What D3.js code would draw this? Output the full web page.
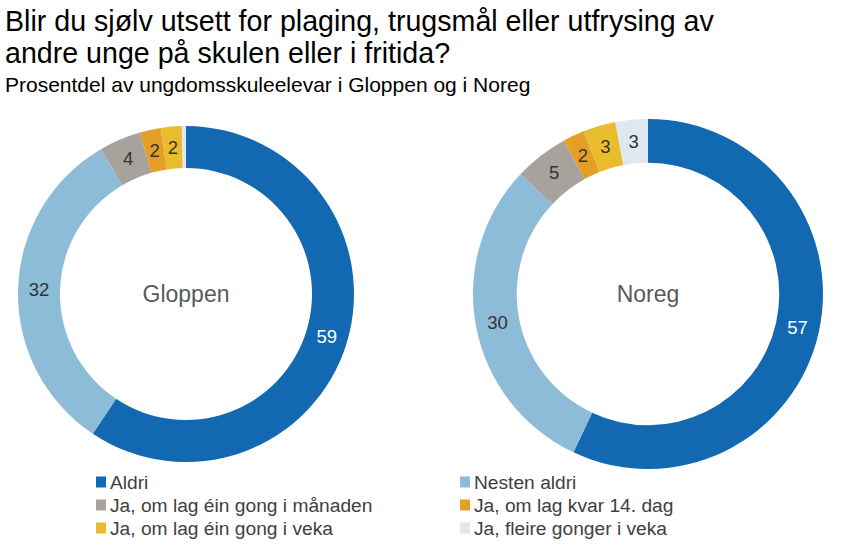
<!DOCTYPE html>
<html>
<head>
<meta charset="utf-8">
<script src="https://cdn.jsdelivr.net/npm/d3@7"></script>
<style>
  html, body { margin: 0; padding: 0; background: #fff; }
  svg { display: block; font-family: "Liberation Sans", Arial, sans-serif; }
</style>
</head>
<body>
<svg id="chart" width="857" height="547"></svg>
<script>
// ---- Data ----
const categories = [
  "Aldri",
  "Nesten aldri",
  "Ja, om lag éin gong i månaden",
  "Ja, om lag kvar 14. dag",
  "Ja, om lag éin gong i veka",
  "Ja, fleire gonger i veka"
];
const colors = ["#1369b1", "#8dbcd9", "#a8a29c", "#e4a026", "#e8bc2c", "#dfe7f1"];
const gloppenValues = [59, 32, 4, 2, 2, 0.4];
const noregValues = [57, 30, 5, 2, 3, 3];
const regions = ["Gloppen", "Noreg"];

const titleLines = [
  "Blir du sjølv utsett for plaging, trugsmål eller utfrysing av",
  "andre unge på skulen eller i fritida?"
];
const subtitle = "Prosentdel av ungdomsskuleelevar i Gloppen og i Noreg";

// ---- Drawing ----
const svg = d3.select("#chart");

const title = svg.append("text").attr("x", 5).attr("y", 31)
  .attr("font-size", 28.6).attr("fill", "#000");
titleLines.forEach((t, i) => {
  title.append("tspan").attr("x", 5).attr("y", 31 + i * 32).text(t);
});
svg.append("text").attr("x", 5).attr("y", 92)
  .attr("font-size", 21).attr("fill", "#000").text(subtitle);

const donuts = [
  { name: regions[0], values: gloppenValues, cx: 186, cy: 294, r: 168 },
  { name: regions[1], values: noregValues, cx: 648, cy: 294, r: 175 }
];

const pie = d3.pie().sort(null).value(d => d.v);

donuts.forEach(dn => {
  const data = dn.values.map((v, i) => ({ v, i }));
  const arcs = pie(data);
  const inner = dn.r * 0.75;
  const arc = d3.arc().innerRadius(inner).outerRadius(dn.r);
  const labelArc = d3.arc().innerRadius((inner + dn.r) / 2).outerRadius((inner + dn.r) / 2);
  const g = svg.append("g").attr("transform", `translate(${dn.cx},${dn.cy})`);
  g.selectAll("path").data(arcs).join("path")
    .attr("d", arc)
    .attr("fill", d => colors[d.data.i]);
  g.selectAll("text.val").data(arcs.filter(d => d.data.v >= 1)).join("text")
    .attr("class", "val")
    .attr("transform", d => `translate(${labelArc.centroid(d)})`)
    .attr("text-anchor", "middle")
    .attr("dy", "0.35em")
    .attr("font-size", 18.5)
    .attr("fill", d => d.data.i === 0 ? "#ffffff" : "#333333")
    .text(d => d3.format(".0f")(d.data.v));
  g.append("text")
    .attr("text-anchor", "middle")
    .attr("dy", "0.35em")
    .attr("font-size", 23)
    .attr("fill", "#595959")
    .text(dn.name);
});

// ---- Legend ----
const legendCols = [96, 460];
const legendRows = [482, 505, 528];
const legend = svg.append("g");
categories.forEach((c, i) => {
  const x = legendCols[i % 2];
  const y = legendRows[Math.floor(i / 2)];
  legend.append("rect").attr("x", x).attr("y", y - 5.5).attr("width", 10).attr("height", 11)
    .attr("fill", colors[i]);
  legend.append("text").attr("x", x + 14).attr("y", y).attr("dy", "0.35em")
    .attr("font-size", 19.2).attr("fill", "#404040").text(c);
});
</script>
</body>
</html>
